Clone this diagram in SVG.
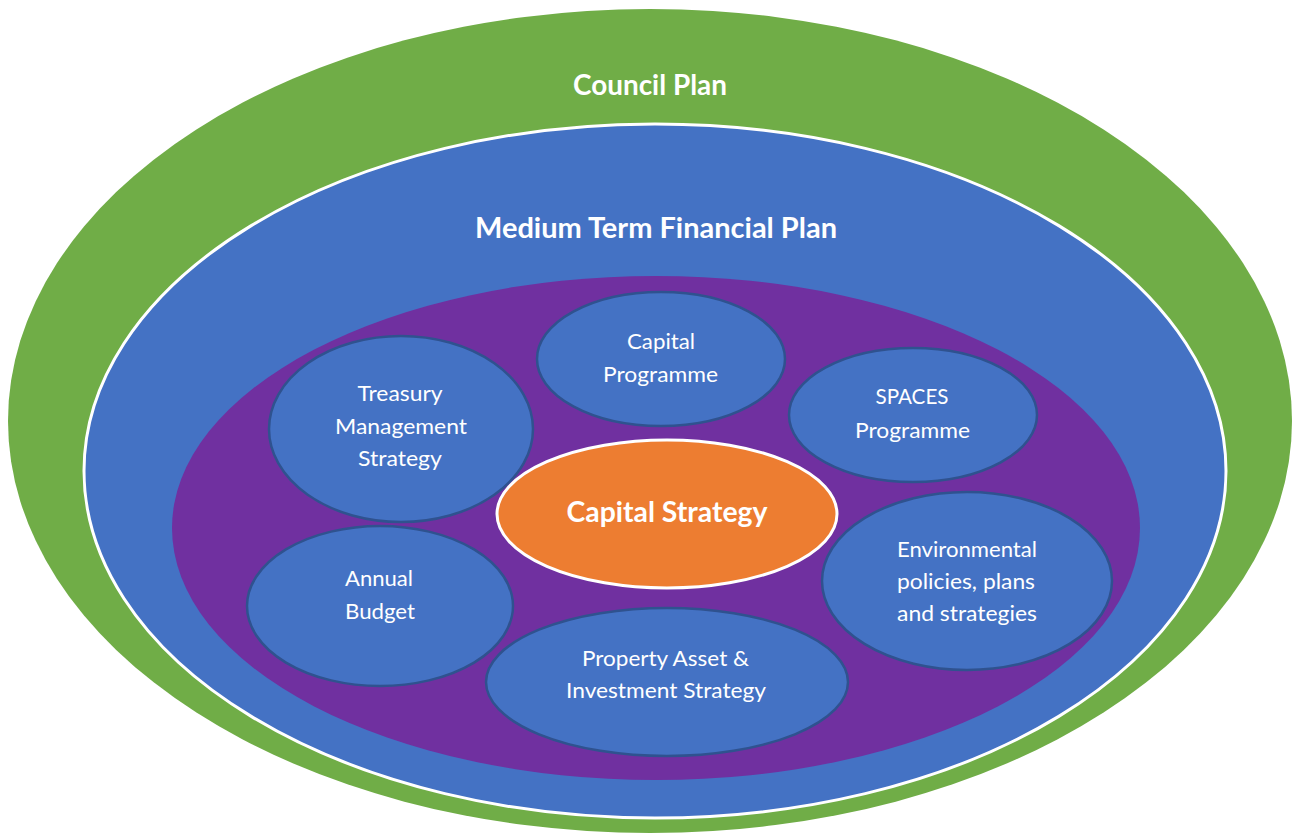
<svg xmlns="http://www.w3.org/2000/svg" width="1294" height="834" viewBox="0 0 1294 834">
<style>
text{font-family:Lato,"Liberation Sans",sans-serif;fill:#ffffff;text-anchor:middle;}
.t{font-weight:700;font-size:28px;}
.s{font-size:21px;}
.inner{fill:#4472C4;stroke:#2F528F;stroke-width:2.5;}
</style>
<rect x="0" y="0" width="1294" height="834" fill="#ffffff"/>
<g id="council-plan">
<ellipse cx="650" cy="421" rx="642" ry="412" fill="#70AD47"/>
<text class="t" x="650" y="95" textLength="154" lengthAdjust="spacingAndGlyphs">Council Plan</text>
</g>
<g id="mtfp">
<ellipse cx="655" cy="471" rx="571" ry="347" fill="#4472C4" stroke="#ffffff" stroke-width="3"/>
<text class="t" x="656" y="238" textLength="362" lengthAdjust="spacingAndGlyphs">Medium Term Financial Plan</text>
</g>
<g id="purple-area">
<ellipse cx="656" cy="528" rx="484" ry="252" fill="#7030A0"/>
</g>
<g id="capital-programme">
<ellipse class="inner" cx="661" cy="359" rx="124" ry="67"/>
<text class="s" x="661" y="349" textLength="68" lengthAdjust="spacingAndGlyphs">Capital</text>
<text class="s" x="660.5" y="382" textLength="115" lengthAdjust="spacingAndGlyphs">Programme</text>
</g>
<g id="spaces-programme">
<ellipse class="inner" cx="913" cy="415" rx="124" ry="67"/>
<text class="s" x="912" y="404" textLength="73" lengthAdjust="spacingAndGlyphs">SPACES</text>
<text class="s" x="912.5" y="438" textLength="115" lengthAdjust="spacingAndGlyphs">Programme</text>
</g>
<g id="treasury">
<ellipse class="inner" cx="401" cy="429" rx="132" ry="93"/>
<text class="s" x="400" y="401" textLength="85" lengthAdjust="spacingAndGlyphs">Treasury</text>
<text class="s" x="401" y="434" textLength="132" lengthAdjust="spacingAndGlyphs">Management</text>
<text class="s" x="400" y="466" textLength="84" lengthAdjust="spacingAndGlyphs">Strategy</text>
</g>
<g id="annual-budget">
<ellipse class="inner" cx="380" cy="606" rx="133" ry="80"/>
<text class="s" x="379" y="586" textLength="68" lengthAdjust="spacingAndGlyphs">Annual</text>
<text class="s" x="380" y="619" textLength="70" lengthAdjust="spacingAndGlyphs">Budget</text>
</g>
<g id="property-asset">
<ellipse class="inner" cx="667" cy="682" rx="181" ry="74"/>
<text class="s" x="665.5" y="666" textLength="167" lengthAdjust="spacingAndGlyphs">Property Asset &amp;</text>
<text class="s" x="666" y="698" textLength="200" lengthAdjust="spacingAndGlyphs">Investment Strategy</text>
</g>
<g id="environmental">
<ellipse class="inner" cx="967" cy="581" rx="145" ry="89"/>
<text class="s" x="967" y="557" textLength="140" lengthAdjust="spacingAndGlyphs">Environmental</text>
<text class="s" x="966" y="589" textLength="138" lengthAdjust="spacingAndGlyphs">policies, plans</text>
<text class="s" x="967" y="621" textLength="140" lengthAdjust="spacingAndGlyphs">and strategies</text>
</g>
<g id="capital-strategy">
<ellipse cx="667" cy="514" rx="170" ry="74" fill="#ED7D31" stroke="#ffffff" stroke-width="3"/>
<text class="t" x="667" y="522" font-size="26" textLength="201" lengthAdjust="spacingAndGlyphs">Capital Strategy</text>
</g>
</svg>
